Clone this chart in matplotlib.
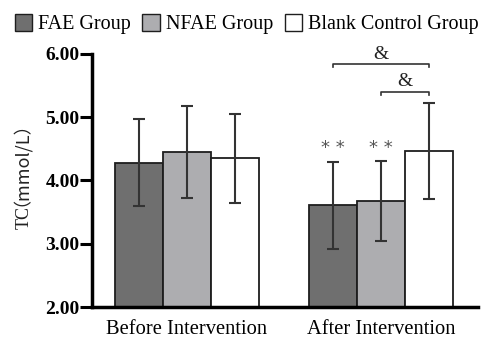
import matplotlib
matplotlib.use("Agg")
import matplotlib.pyplot as plt
import numpy as np
from matplotlib.patches import Patch

groups = ["Before Intervention", "After Intervention"]
series = ["FAE Group", "NFAE Group", "Blank Control Group"]
means = {
    "FAE Group": [4.28, 3.61],
    "NFAE Group": [4.45, 3.68],
    "Blank Control Group": [4.35, 4.47],
}
sds = {
    "FAE Group": [0.69, 0.69],
    "NFAE Group": [0.73, 0.63],
    "Blank Control Group": [0.70, 0.76],
}
colors = ["#6f6f6f", "#adadb0", "#ffffff"]
yticks = [2.0, 3.0, 4.0, 5.0, 6.0]

serif = "Liberation Serif"
W, H = 484, 341
fig = plt.figure(figsize=(W / 100, H / 100), dpi=100)
ax = fig.add_axes([0.190, 0.0997, 0.798, 0.742])

x = np.arange(len(groups))
w = 0.247
for i, s in enumerate(series):
    pos = x + (i - 1) * w
    ax.bar(pos, means[s], width=w, bottom=0, color=colors[i], edgecolor="#1e1e1e",
           linewidth=1.3, zorder=2)
    ax.errorbar(pos, means[s], yerr=sds[s], fmt="none", ecolor="#333333",
                elinewidth=1.5, capsize=4.3, capthick=1.5, zorder=3)

ax.set_ylim(2.0, 6.0)
ax.set_xlim(-0.49, 1.50)
ax.set_yticks(yticks)
ax.set_yticklabels([f"{v:.2f}" for v in yticks], fontfamily=serif,
                   fontweight="bold", fontsize=14)
ax.set_xticks(x)
ax.set_xticklabels(groups, fontfamily=serif, fontsize=14.8)
ax.tick_params(axis="y", length=8.5, width=2.2, direction="out", pad=0.5)
ax.tick_params(axis="x", length=0, pad=9)
for sp in ["top", "right"]:
    ax.spines[sp].set_visible(False)
ax.spines["left"].set_linewidth(2.5)
ax.spines["bottom"].set_linewidth(2.5)

# y label: "TC" serif + "（mmol/L）" sans, stacked vertically
fig.text(24.5 / W, 1 - 229 / H, "TC", rotation=90, rotation_mode="anchor",
         ha="left", va="center", fontfamily=serif, fontsize=13, color="#222222")
fig.text(11.0 / W, 1 - 206 / H, "（mmol/L）", rotation=90, rotation_mode="anchor",
         ha="left", va="center", fontfamily=["Noto Sans CJK SC", "DejaVu Sans"],
         fontsize=13, color="#222222")

# significance marks
gray = "#555555"
for i in [0, 1]:
    ax.text(x[1] + (i - 1) * w, 4.52, "* *", ha="center", va="center",
            fontsize=13, color=gray, fontfamily="DejaVu Sans")

def bracket(x0, x1, y, label, ly):
    ax.plot([x0, x0, x1, x1], [y - 0.05, y, y, y - 0.05], color="#333333",
            lw=1.2, clip_on=False, zorder=4)
    ax.text((x0 + x1) / 2, ly, label, ha="center", va="center",
            fontfamily=serif, fontsize=14, color="#222222", clip_on=False)

bracket(x[1] - w, x[1] + w, 5.84, "&", 5.99)
bracket(x[1], x[1] + w, 5.40, "&", 5.56)

handles = [Patch(facecolor=colors[i], edgecolor="#1e1e1e", linewidth=1.0, label=s)
           for i, s in enumerate(series)]
fig.legend(handles=handles, loc="upper left", bbox_to_anchor=(0.005, 0.993), ncol=3,
           frameon=False, prop={"family": serif, "size": 14.5},
           handlelength=0.85, handleheight=0.85, handletextpad=0.3, columnspacing=0.6,
           borderaxespad=0.2)

fig.savefig("out.png", dpi=100)
